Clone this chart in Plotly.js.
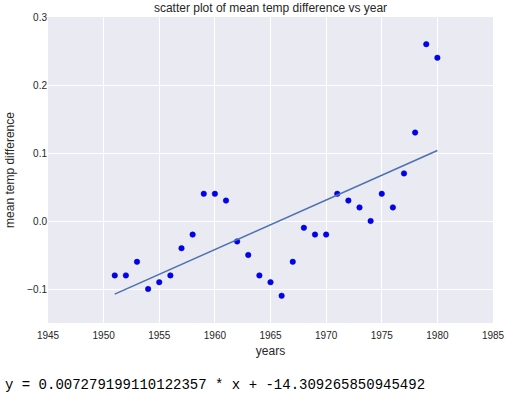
<!DOCTYPE html>
<html>
<head>
<meta charset="utf-8">
<script src="https://cdn.plot.ly/plotly-3.0.1.min.js"></script>
<style>html,body{margin:0;padding:0;background:#fff;}#chart{width:509px;height:397px;}</style>
</head>
<body>
<div id="chart"></div>
<script>
const years = [1951,1952,1953,1954,1955,1956,1957,1958,1959,1960,1961,1962,1963,1964,1965,1966,1967,1968,1969,1970,1971,1972,1973,1974,1975,1976,1977,1978,1979,1980];
const tempDiff = [-0.08,-0.08,-0.06,-0.10,-0.09,-0.08,-0.04,-0.02,0.04,0.04,0.03,-0.03,-0.05,-0.08,-0.09,-0.11,-0.06,-0.01,-0.02,-0.02,0.04,0.03,0.02,0.00,0.04,0.02,0.07,0.13,0.26,0.24];
const slope = 0.007279199110122357;
const intercept = -14.309265850945492;
const xTicks = [1945,1950,1955,1960,1965,1970,1975,1980,1985];
const yTicks = [-0.1,0.0,0.1,0.2,0.3];
const yTickText = ['\u22120.1','0.0','0.1','0.2','0.3'];

const fitX = [years[0], years[years.length-1]];
const fitY = fitX.map(x => slope*x + intercept);

const traces = [
  {x: years, y: tempDiff, type:'scatter', mode:'markers',
   marker:{color:'#0000ff', size:5.5, line:{color:'#00008a', width:0.5}}, hoverinfo:'none'},
  {x: fitX, y: fitY, type:'scatter', mode:'lines',
   line:{color:'#4c72b0', width:1.6}, hoverinfo:'none'}
];

const layout = {
  width:509, height:397,
  margin:{l:48, r:16, t:17, b:73.5},
  paper_bgcolor:'#ffffff', plot_bgcolor:'#eaeaf2',
  showlegend:false,
  font:{family:'Liberation Sans, Arial, sans-serif', color:'#262626'},
  title:{text:'scatter plot of mean temp difference vs year', x:0.5, xref:'paper', y:1-8/397, yref:'container', yanchor:'middle',
    font:{size:12, color:'#262626', family:'Liberation Sans, Arial, sans-serif'}},
  xaxis:{range:[1945,1985], tickvals:xTicks, ticktext:xTicks.map(String), showgrid:true, gridcolor:'#ffffff', gridwidth:1,
    zeroline:false, showline:false, ticks:'', ticklen:0, ticklabelstandoff:5, tickfont:{size:10, color:'#262626'},
    title:{text:'years', font:{size:12, color:'#262626'}, standoff:6}},
  yaxis:{range:[-0.15,0.3], tickvals:yTicks, ticktext:yTickText, showgrid:true, gridcolor:'#ffffff', gridwidth:1,
    zeroline:false, showline:false, ticks:'', tickfont:{size:10, color:'#262626'},
    title:{text:'mean temp difference', font:{size:12, color:'#262626'}, standoff:10}},
  annotations:[{text:'y = ' + slope + ' * x + ' + intercept, xref:'paper', yref:'paper',
    x:-45/445, y:-(386-323.5)/306.5, xanchor:'left', yanchor:'middle', showarrow:false,
    font:{family:'Liberation Mono, Courier New, monospace', size:14, color:'#000000'}}]
};

Plotly.newPlot('chart', traces, layout, {staticPlot:true, displayModeBar:false});
</script>
</body>
</html>
